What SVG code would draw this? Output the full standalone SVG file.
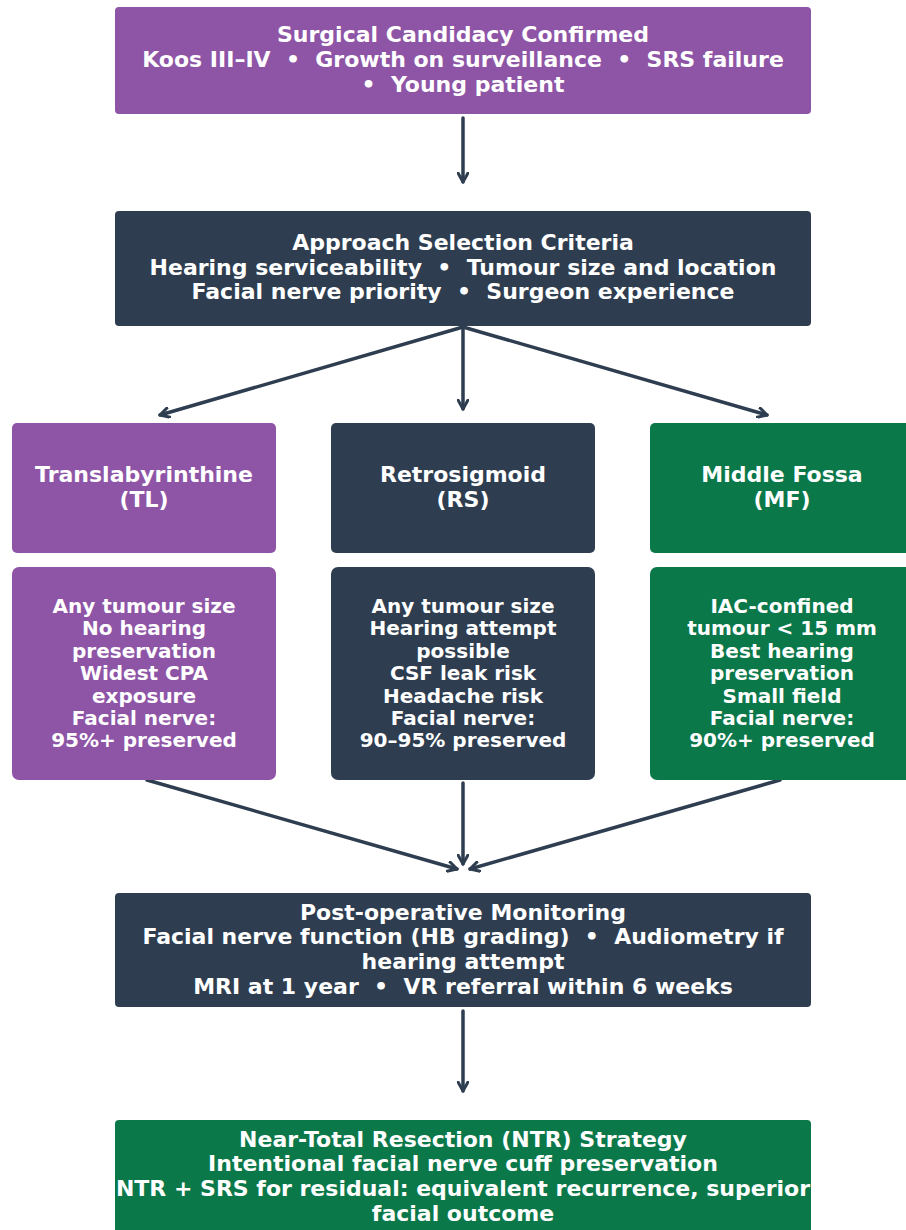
<svg xmlns="http://www.w3.org/2000/svg" width="906" height="1230" viewBox="0 0 906 1230">
  <style>
    .purple { fill: #8e55a7; }
    .dark { fill: #2e3e50; }
    .green { fill: #0b784a; }
    text { fill: #ffffff; font-family: "DejaVu Sans", "Liberation Sans", sans-serif; font-weight: bold; text-anchor: middle; white-space: pre; }
    .t { font-size: 22px; }
    .h { font-size: 22px; }
    .d { font-size: 20px; }
    .edge { fill: none; stroke: #2e3e50; stroke-width: 3.5; stroke-linecap: round; }
  </style>
  <defs>
    <marker id="arrow" viewBox="0 0 12 12" refX="10" refY="6" markerWidth="12" markerHeight="12" markerUnits="userSpaceOnUse" orient="auto">
      <path d="M1,1 L10,6 L1,11" fill="none" stroke="#2e3e50" stroke-width="3" stroke-linecap="round" stroke-linejoin="round"/>
    </marker>
  </defs>

  <g id="connectors">
    <line class="edge" x1="463" y1="118" x2="463" y2="182" marker-end="url(#arrow)"/>
    <line class="edge" x1="463" y1="327" x2="160" y2="415" marker-end="url(#arrow)"/>
    <line class="edge" x1="463" y1="327" x2="463" y2="409" marker-end="url(#arrow)"/>
    <line class="edge" x1="463" y1="327" x2="767" y2="415" marker-end="url(#arrow)"/>
    <line class="edge" x1="147" y1="780" x2="457" y2="869" marker-end="url(#arrow)"/>
    <line class="edge" x1="463" y1="783" x2="463" y2="864" marker-end="url(#arrow)"/>
    <line class="edge" x1="780" y1="780" x2="470" y2="869" marker-end="url(#arrow)"/>
    <line class="edge" x1="463" y1="1011" x2="463" y2="1091" marker-end="url(#arrow)"/>
  </g>

  <g id="candidacy">
    <rect class="purple" x="115" y="7" width="696" height="107" rx="4"/>
    <text class="t" x="463" y="42">Surgical Candidacy Confirmed</text>
    <text class="t" x="463" y="67">Koos III–IV  •  Growth on surveillance  •  SRS failure</text>
    <text class="t" x="463" y="92">•  Young patient</text>
  </g>

  <g id="criteria">
    <rect class="dark" x="115" y="211" width="696" height="115" rx="4"/>
    <text class="t" x="463" y="250">Approach Selection Criteria</text>
    <text class="t" x="463" y="275">Hearing serviceability  •  Tumour size and location</text>
    <text class="t" x="463" y="299">Facial nerve priority  •  Surgeon experience</text>
  </g>

  <g id="tl">
    <rect class="purple" x="12" y="423" width="264" height="130" rx="5"/>
    <text class="h" x="144" y="482">Translabyrinthine</text>
    <text class="h" x="144" y="507">(TL)</text>
  </g>

  <g id="rs">
    <rect class="dark" x="331" y="423" width="264" height="130" rx="5"/>
    <text class="h" x="463" y="482">Retrosigmoid</text>
    <text class="h" x="463" y="507">(RS)</text>
  </g>

  <g id="mf">
    <rect class="green" x="650" y="423" width="264" height="130" rx="5"/>
    <text class="h" x="782" y="482">Middle Fossa</text>
    <text class="h" x="782" y="507">(MF)</text>
  </g>

  <g id="tl-detail">
    <rect class="purple" x="12" y="567" width="264" height="213" rx="7"/>
    <text class="d" x="144" y="613">Any tumour size</text>
    <text class="d" x="144" y="635">No hearing</text>
    <text class="d" x="144" y="658">preservation</text>
    <text class="d" x="144" y="680">Widest CPA</text>
    <text class="d" x="144" y="703">exposure</text>
    <text class="d" x="144" y="725">Facial nerve:</text>
    <text class="d" x="144" y="747">95%+ preserved</text>
  </g>

  <g id="rs-detail">
    <rect class="dark" x="331" y="567" width="264" height="213" rx="7"/>
    <text class="d" x="463" y="613">Any tumour size</text>
    <text class="d" x="463" y="635">Hearing attempt</text>
    <text class="d" x="463" y="658">possible</text>
    <text class="d" x="463" y="680">CSF leak risk</text>
    <text class="d" x="463" y="703">Headache risk</text>
    <text class="d" x="463" y="725">Facial nerve:</text>
    <text class="d" x="463" y="747">90–95% preserved</text>
  </g>

  <g id="mf-detail">
    <rect class="green" x="650" y="567" width="264" height="213" rx="7"/>
    <text class="d" x="782" y="613">IAC-confined</text>
    <text class="d" x="782" y="635">tumour &lt; 15 mm</text>
    <text class="d" x="782" y="658">Best hearing</text>
    <text class="d" x="782" y="680">preservation</text>
    <text class="d" x="782" y="703">Small field</text>
    <text class="d" x="782" y="725">Facial nerve:</text>
    <text class="d" x="782" y="747">90%+ preserved</text>
  </g>

  <g id="monitoring">
    <rect class="dark" x="115" y="893" width="696" height="114" rx="4"/>
    <text class="t" x="463" y="920">Post-operative Monitoring</text>
    <text class="t" x="463" y="944">Facial nerve function (HB grading)  •  Audiometry if</text>
    <text class="t" x="463" y="969">hearing attempt</text>
    <text class="t" x="463" y="994">MRI at 1 year  •  VR referral within 6 weeks</text>
  </g>

  <g id="ntr">
    <rect class="green" x="115" y="1120" width="696" height="130" rx="4"/>
    <text class="t" x="463" y="1147">Near-Total Resection (NTR) Strategy</text>
    <text class="t" x="463" y="1171">Intentional facial nerve cuff preservation</text>
    <text class="t" x="463" y="1196">NTR + SRS for residual: equivalent recurrence, superior</text>
    <text class="t" x="463" y="1221">facial outcome</text>
  </g>
</svg>
